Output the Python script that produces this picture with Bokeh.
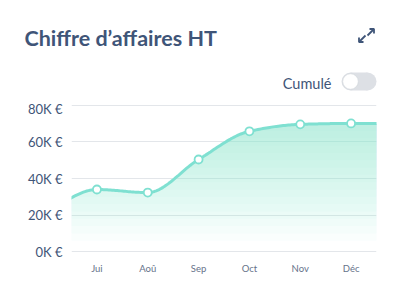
import numpy as np
from bokeh.plotting import figure
from bokeh.layouts import column, row
from bokeh.models import Range1d, FixedTicker, ColumnDataSource
from bokeh.core.properties import value
from bokeh.embed import file_html
from bokeh.resources import INLINE

# ---- data ----
months = ["Jui", "Aoû", "Sep", "Oct", "Nov", "Déc"]
values = [34000, 32300, 50400, 65800, 69600, 70100]
prev_value = 22000   # month before (off-chart, left)
next_value = 70000   # month after (off-chart, right)
y_ticks = [0, 20000, 40000, 60000, 80000]
y_labels = ["0K €", "20K €", "40K €", "60K €", "80K €"]
title_text = "Chiffre d’affaires HT"
toggle_text = "Cumulé"

TEAL = "#7fe0d1"
TEXT = "#3f5578"
FONT = value("Lato")

# ---------------- header (title, toggle, expand icon) ----------------
h = figure(width=400, height=100, output_backend="svg", toolbar_location=None,
           x_range=Range1d(0, 400), y_range=Range1d(100, 0),
           x_axis_location=None, y_axis_location=None,
           min_border_left=0, min_border_right=0, min_border_top=0, min_border_bottom=0)
h.grid.visible = False
h.outline_line_color = None
h.text(x=[24], y=[37], text=[title_text], text_font=FONT, text_font_style="bold",
       text_font_size="21.5px", text_color=TEXT, text_baseline="alphabetic")
h.text(x=[331], y=[83], text=[toggle_text], text_font=FONT, text_font_size="14.5px",
       text_color=TEXT, text_align="right", text_baseline="alphabetic")
# toggle pill
h.rect(x=[358.5], y=[81], width=17, height=18, fill_color="#dde0e5", line_color=None)
h.circle(x=[350, 367], y=[81, 81], radius=9, fill_color="#dde0e5", line_color=None)
h.circle(x=[350], y=[81], radius=7.8, fill_color="white", line_color="#cfd3d9", line_width=0.6)
# expand icon
h.multi_line(xs=[[367, 373], [369, 373.5, 373.5], [365, 359], [358.5, 358.5, 363]],
             ys=[[35, 29], [28.5, 28.5, 33], [35, 41], [37, 41.5, 41.5]],
             line_color=TEXT, line_width=1.8)

# ---------------- chart ----------------
px = np.arange(-1, len(values) + 1, dtype=float)
py = np.array([prev_value] + values + [next_value], dtype=float)

def monotone(x, y, n=30):
    hh = np.diff(x)
    d = np.diff(y) / hh
    m = np.zeros_like(y)
    m[0], m[-1] = d[0], d[-1]
    for i in range(1, len(y) - 1):
        if d[i - 1] * d[i] <= 0:
            m[i] = 0
        else:
            w1 = 2 * hh[i] + hh[i - 1]
            w2 = hh[i] + 2 * hh[i - 1]
            m[i] = (w1 + w2) / (w1 / d[i - 1] + w2 / d[i])
    xs, ys = [], []
    for i in range(len(x) - 1):
        t = np.linspace(0, 1, n, endpoint=False)
        h00 = 2 * t**3 - 3 * t**2 + 1
        h10 = t**3 - 2 * t**2 + t
        h01 = -2 * t**3 + 3 * t**2
        h11 = t**3 - t**2
        xs.append(x[i] + t * hh[i])
        ys.append(h00 * y[i] + h10 * hh[i] * m[i] + h01 * y[i + 1] + h11 * hh[i] * m[i + 1])
    xs.append([x[-1]]); ys.append([y[-1]])
    return np.concatenate(xs), np.concatenate(ys)

cx, cy = monotone(px, py)

p = figure(width=400, height=200, output_backend="svg", toolbar_location=None,
           x_range=Range1d(-0.5, 5.5), y_range=Range1d(-1000, 81000),
           min_border_left=71, min_border_right=24, min_border_top=3, min_border_bottom=47)
p.outline_line_color = None

# gradient-like fill by stacking bands
for t in range(6000, 76000, 4000):
    p.varea(x=cx, y1=np.minimum(cy, t), y2=cy, fill_color=TEAL, fill_alpha=0.04)

p.line(cx, cy, line_color=TEAL, line_width=3)
src = ColumnDataSource(dict(x=list(range(len(values))), y=values))
p.scatter("x", "y", source=src, size=8, fill_color="white", line_color=TEAL, line_width=1.8)

p.xaxis.ticker = FixedTicker(ticks=list(range(len(months))))
p.xaxis.major_label_overrides = {i: m for i, m in enumerate(months)}
p.yaxis.ticker = FixedTicker(ticks=y_ticks)
p.yaxis.major_label_overrides = {v: l for v, l in zip(y_ticks, y_labels)}
for ax in (p.xaxis, p.yaxis):
    ax.axis_line_color = None
    ax.major_tick_line_color = None
    ax.minor_tick_line_color = None
    ax.major_tick_out = 0
    ax.major_tick_in = 0
    ax.major_label_text_font = "Lato"
p.yaxis.major_label_text_font_size = "13px"
p.yaxis.major_label_text_color = TEXT
p.yaxis.major_label_standoff = 9
p.xaxis.major_label_text_font_size = "9.5px"
p.xaxis.major_label_text_color = "#66728a"
p.xaxis.major_label_standoff = 9
p.xgrid.grid_line_color = None
p.ygrid.grid_line_color = "#e3e6ea"
p.ygrid.grid_line_width = 1

layout = column(row(h), row(p), spacing=0)
open("out.html", "w").write(file_html(layout, INLINE))
